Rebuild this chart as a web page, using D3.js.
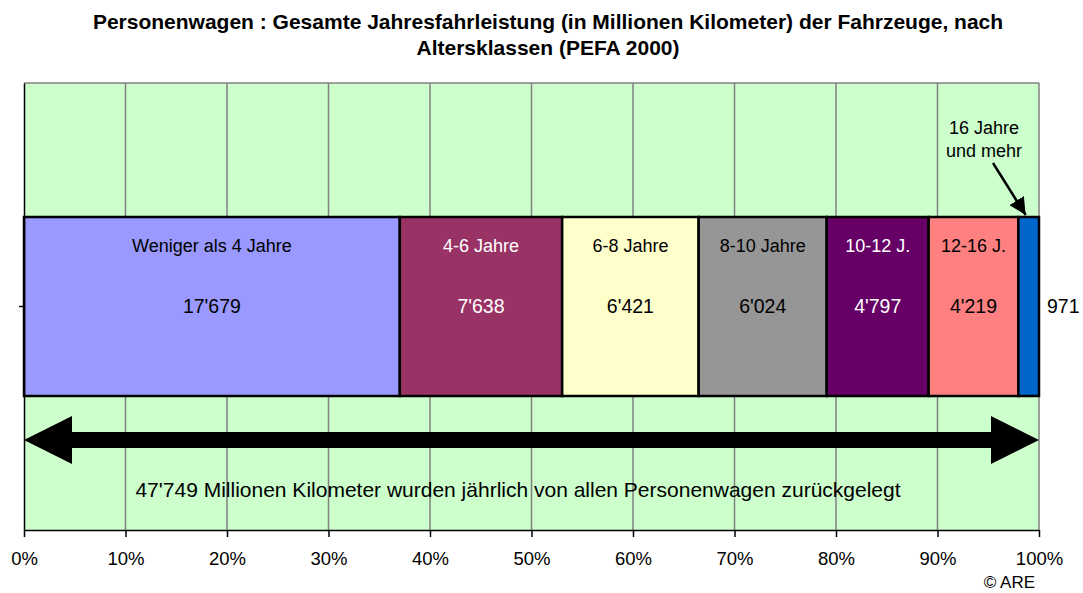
<!DOCTYPE html>
<html><head><meta charset="utf-8">
<script src="https://cdn.jsdelivr.net/npm/d3@7"></script>
<style>body{margin:0;background:#fff;font-family:Arial,"Liberation Sans",sans-serif;}</style>
</head><body><svg id="c" width="1083" height="593"></svg>
<script>
const categories = ["Weniger als 4 Jahre","4-6 Jahre","6-8 Jahre","8-10 Jahre","10-12 J.","12-16 J.","16 Jahre und mehr"];
const values = [17679, 7638, 6421, 6024, 4797, 4219, 971];
const colors = ["#9999FF","#993366","#FFFFCC","#969696","#660066","#FF8080","#0066CC"];
const labelColors = ["#000","#fff","#000","#000","#fff","#000","#000"];
const tickValues = [0,0.1,0.2,0.3,0.4,0.5,0.6,0.7,0.8,0.9,1];
const titleLines = ["Personenwagen : Gesamte Jahresfahrleistung (in Millionen Kilometer) der Fahrzeuge, nach","Altersklassen (PEFA 2000)"];
const totalText = "47'749 Millionen Kilometer wurden jährlich von allen Personenwagen zurückgelegt";

const svg = d3.select("#c");
const L=24,R=1039,T=83,B=530;
const total = d3.sum(values);
const x = d3.scaleLinear().domain([0,1]).range([L,R]);
const y = d3.scaleBand().domain(["PW"]).range([B,T]).paddingInner(0).paddingOuter(0.5);
const fmt = v => { const s = String(v); return s.length>3 ? s.slice(0,-3)+"'"+s.slice(-3) : s; };

// titles
svg.selectAll("text.title").data(titleLines).enter().append("text")
  .attr("x",548).attr("y",(d,i)=>29+i*26).attr("text-anchor","middle")
  .attr("font-size",21).attr("font-weight","bold").text(d=>d);

// plot bg
svg.append("rect").attr("x",L).attr("y",T).attr("width",R-L).attr("height",B-T).attr("fill","#CCFFCC");
// gridlines
svg.selectAll("line.grid").data(tickValues.slice(1,-1)).enter().append("line")
  .attr("x1",d=>x(d)).attr("x2",d=>x(d)).attr("y1",T).attr("y2",B)
  .attr("stroke","#808080").attr("stroke-width",1.5);
svg.append("line").attr("x1",L).attr("x2",R).attr("y1",T).attr("y2",T).attr("stroke","#808080").attr("stroke-width",1.5);
svg.append("line").attr("x1",R).attr("x2",R).attr("y1",T).attr("y2",B).attr("stroke","#808080").attr("stroke-width",1.5);

// segments
let cum=0;
const segs = values.map((v,i)=>{const s={i,v,x0:cum/total,x1:(cum+v)/total}; cum+=v; return s;});
const by0 = 217, by1 = 396;
svg.selectAll("rect.seg").data(segs).enter().append("rect")
  .attr("x",d=>x(d.x0)).attr("width",d=>x(d.x1)-x(d.x0))
  .attr("y",by0).attr("height",by1-by0)
  .attr("fill",d=>colors[d.i]).attr("stroke","#000").attr("stroke-width",2.5);

const inner = segs.slice(0,6);
svg.selectAll("text.cat").data(inner).enter().append("text")
  .attr("x",d=>(x(d.x0)+x(d.x1))/2).attr("y",252).attr("text-anchor","middle")
  .attr("font-size",18).attr("fill",d=>labelColors[d.i]).text(d=>categories[d.i]);
svg.selectAll("text.val").data(inner).enter().append("text")
  .attr("x",d=>(x(d.x0)+x(d.x1))/2).attr("y",313).attr("text-anchor","middle")
  .attr("font-size",19.5).attr("fill",d=>labelColors[d.i]).text(d=>fmt(d.v));
const last = segs[6];
svg.append("text").attr("x",x(last.x1)+8).attr("y",313).attr("font-size",19.5).text(fmt(last.v));
svg.append("text").attr("x",984).attr("y",134).attr("text-anchor","middle").attr("font-size",18).text("16 Jahre");
svg.append("text").attr("x",984).attr("y",157).attr("text-anchor","middle").attr("font-size",18).text("und mehr");
// small arrow
svg.append("defs").append("marker").attr("id","ah").attr("viewBox","0 0 10 10").attr("refX",10).attr("refY",5)
  .attr("markerWidth",17).attr("markerHeight",17).attr("markerUnits","userSpaceOnUse").attr("orient","auto")
  .append("path").attr("d","M0,0L10,5L0,10Z").attr("fill","#000");
svg.append("line").attr("x1",993).attr("y1",163).attr("x2",x((last.x0+last.x1)/2)-3).attr("y2",215)
  .attr("stroke","#000").attr("stroke-width",2.5).attr("marker-end","url(#ah)");

// big double arrow
const ay=440, hw=24, sw=8, hl=48;
svg.append("path").attr("d",
  `M${x(0)},${ay} L${x(0)+hl},${ay-hw} L${x(0)+hl},${ay-sw} L${x(1)-hl},${ay-sw} L${x(1)-hl},${ay-hw} L${x(1)},${ay} L${x(1)-hl},${ay+hw} L${x(1)-hl},${ay+sw} L${x(0)+hl},${ay+sw} L${x(0)+hl},${ay+hw} Z`)
  .attr("fill","#000");
svg.append("text").attr("x",518).attr("y",497).attr("text-anchor","middle").attr("font-size",21).text(totalText);

// axes
const xa = svg.append("g").attr("transform",`translate(0,${B})`)
  .call(d3.axisBottom(x).tickValues(tickValues).tickFormat(d3.format(".0%")).tickSize(7).tickSizeOuter(0));
xa.select(".domain").attr("stroke","#000").attr("stroke-width",1.5);
xa.selectAll(".tick line").attr("stroke","#000").attr("stroke-width",1.5);
xa.selectAll(".tick text").attr("font-size",18.5).attr("font-family","Arial, 'Liberation Sans', sans-serif").attr("fill","#000").attr("dy",0).attr("y",35);
const ya = svg.append("g").attr("transform",`translate(${L},0)`)
  .call(d3.axisLeft(y).tickSize(5).tickSizeOuter(0).tickFormat(""));
ya.select(".domain").attr("stroke","#000").attr("stroke-width",1.5);
ya.selectAll(".tick line").attr("stroke","#000").attr("stroke-width",1.5);

svg.append("text").attr("x",1035).attr("y",588).attr("text-anchor","end").attr("font-size",17).text("© ARE");
</script></body></html>
